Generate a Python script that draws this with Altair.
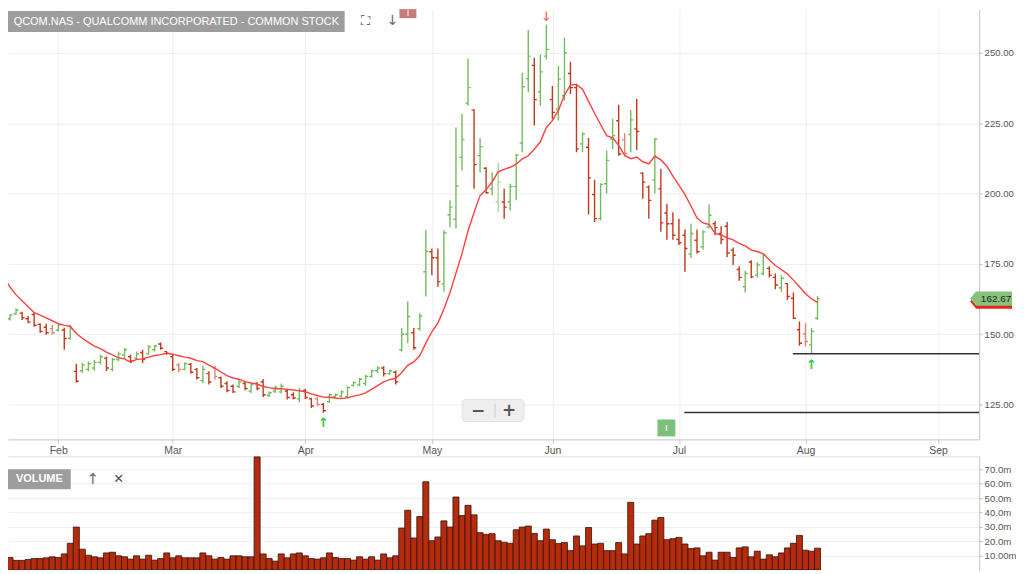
import altair as alt
import pandas as pd

TITLE = "QCOM.NAS - QUALCOMM INCORPORATED - COMMON STOCK"
months = ["Feb", "Mar", "Apr", "May", "Jun", "Jul", "Aug", "Sep"]
month_idx = [9, 28, 50, 71, 91, 112, 133, 155]
price_ticks = [125, 150, 175, 200, 225, 250]
price_labels = ["125.00", "150.00", "175.00", "200.00", "225.00", "250.00"]
vol_ticks = [10, 20, 30, 40, 50, 60, 70]
vol_labels = ["10.00m", "20.0m", "30.0m", "40.0m", "50.0m", "60.0m", "70.0m"]

opens = [157.6, 155.5, 157.3, 157.5, 155.5, 157.0, 153.5, 152.5, 152.0, 151.5,
         151.5, 148.5, 136.8, 137.0, 137.5, 138.0, 140.0, 141.5, 137.5, 141.0,
         142.5, 142.0, 141.5, 143.5, 143.0, 144.5, 146.5, 143.8, 142.0, 139.0,
         137.5, 139.3, 137.5, 133.5, 136.0, 138.0, 134.5, 132.5, 131.5, 131.5,
         132.5, 129.8, 132.5, 133.0, 128.3, 129.8, 129.5, 129.8, 128.5, 127.0,
         130.0, 127.0, 127.0, 125.0, 126.0, 127.8, 128.0, 127.8, 131.8, 132.0,
         132.5, 135.0, 137.0, 138.0, 136.0, 136.5, 144.5, 150.0, 150.5, 152.0,
         172.2, 179.3, 177.2, 167.9, 192.5, 190.9, 212.9, 232.2, 229.7, 213.5,
         209.0, 201.7, 197.0, 197.0, 197.0, 202.5, 218.0, 240.9, 245.6, 236.2,
         248.9, 233.4, 230.0, 234.8, 242.7, 237.7, 217.7, 216.5, 199.7, 191.1,
         203.5, 219.4, 225.9, 219.1, 221.0, 223.0, 207.3, 202.3, 204.9, 201.7,
         193.1, 189.3, 183.7, 185.2, 178.5, 183.4, 181.1, 188.1, 189.3, 185.8,
         188.4, 179.9, 173.0, 166.9, 175.7, 171.0, 171.6, 173.4, 170.2, 166.5,
         168.0, 162.8, 151.6, 150.1, 146.2, 155.7]
highs = [158.0, 157.2, 159.2, 158.0, 156.5, 157.5, 153.9, 153.7, 153.3, 153.9,
         152.3, 153.3, 139.5, 139.8, 140.3, 140.9, 142.7, 142.1, 141.6, 143.9,
         145.1, 142.7, 143.9, 144.5, 146.2, 146.2, 147.1, 143.9, 142.7, 139.8,
         140.0, 139.8, 138.0, 138.8, 136.8, 138.8, 135.0, 133.3, 132.1, 133.9,
         133.3, 132.7, 132.9, 134.1, 129.7, 131.8, 132.4, 130.3, 129.4, 130.9,
         130.6, 127.4, 127.7, 125.6, 128.9, 128.9, 130.1, 131.7, 133.3, 134.5,
         135.6, 137.4, 138.6, 138.6, 137.4, 137.1, 152.2, 161.6, 152.2, 157.5,
         187.0, 180.5, 180.5, 187.0, 197.6, 223.5, 228.3, 248.0, 230.0, 219.8,
         209.4, 207.6, 210.9, 201.7, 203.5, 214.1, 243.0, 258.2, 248.3, 249.5,
         260.1, 238.3, 245.4, 255.4, 246.9, 238.9, 221.8, 219.8, 204.9, 203.7,
         215.3, 226.5, 231.6, 221.5, 229.7, 233.6, 207.6, 202.9, 219.8, 208.8,
         196.4, 193.4, 191.1, 187.2, 189.3, 187.2, 187.0, 196.2, 190.3, 188.4,
         189.9, 180.8, 174.2, 172.6, 176.3, 175.7, 178.9, 174.2, 171.6, 171.0,
         168.1, 164.8, 154.5, 153.9, 152.2, 163.6]
lows = [153.3, 154.9, 156.9, 155.1, 153.9, 152.7, 150.4, 149.8, 149.8, 151.0,
        144.5, 148.0, 132.8, 136.2, 136.8, 137.0, 139.2, 136.8, 136.8, 140.3,
        141.5, 139.8, 140.9, 139.8, 142.7, 143.9, 144.5, 142.7, 136.8, 136.4,
        137.2, 136.0, 133.9, 132.7, 132.1, 133.9, 130.9, 129.4, 129.1, 130.9,
        130.1, 129.1, 130.1, 127.7, 127.7, 129.1, 128.9, 126.8, 126.8, 125.8,
        127.0, 123.8, 124.4, 122.1, 125.6, 127.4, 127.4, 127.0, 131.3, 131.5,
        131.7, 134.5, 136.2, 135.0, 135.6, 132.1, 143.9, 146.8, 144.5, 151.2,
        163.4, 171.0, 166.9, 165.1, 188.1, 187.6, 208.2, 231.2, 201.7, 207.5,
        200.0, 199.4, 193.4, 191.1, 194.0, 197.6, 214.7, 236.0, 224.2, 231.2,
        247.7, 226.5, 226.0, 233.0, 235.4, 214.7, 214.7, 192.6, 189.9, 190.5,
        200.0, 215.9, 213.5, 213.2, 214.7, 215.5, 198.2, 191.1, 200.0, 186.4,
        183.6, 183.6, 181.7, 172.2, 177.0, 178.7, 180.1, 187.6, 185.2, 182.0,
        177.5, 174.6, 169.0, 164.8, 169.9, 170.2, 171.0, 170.2, 166.0, 165.1,
        162.2, 155.4, 145.9, 145.6, 143.0, 155.1]
closes = [154.0, 156.8, 158.5, 155.8, 154.3, 153.2, 151.0, 150.5, 150.5, 153.3,
          148.5, 152.0, 133.3, 139.0, 139.5, 140.0, 142.0, 138.0, 141.0, 143.0,
          144.5, 140.5, 143.0, 141.0, 145.5, 145.8, 145.0, 143.2, 137.5, 137.5,
          139.5, 136.5, 134.5, 137.5, 133.0, 135.0, 131.5, 130.0, 129.5, 133.0,
          130.7, 132.0, 130.7, 128.5, 129.2, 131.2, 131.5, 127.5, 127.3, 130.0,
          127.5, 124.5, 125.0, 122.8, 128.5, 128.5, 129.5, 131.0, 132.8, 134.0,
          135.0, 137.0, 138.0, 136.0, 137.0, 133.0, 150.0, 156.3, 145.2, 156.5,
          179.5, 177.2, 168.7, 186.0, 195.2, 202.7, 219.2, 237.7, 210.3, 216.7,
          200.3, 205.0, 204.0, 195.2, 202.5, 213.7, 238.0, 248.9, 233.4, 243.3,
          251.3, 228.9, 240.7, 250.1, 237.7, 215.9, 221.2, 205.6, 191.1, 203.3,
          211.8, 220.6, 214.1, 214.3, 226.2, 222.1, 204.1, 197.6, 219.4, 189.6,
          189.3, 185.2, 182.5, 180.5, 185.8, 179.3, 186.4, 192.3, 187.9, 183.7,
          178.9, 178.1, 170.2, 171.6, 170.4, 174.6, 178.1, 171.0, 167.5, 169.9,
          163.4, 155.7, 146.8, 147.4, 151.0, 162.67]
volumes = [11.8, 8.6, 6.6, 6.6, 7.2, 7.9, 7.9, 8.4, 9.1, 8.6,
           11.1, 18.5, 29.8, 14.4, 10.2, 9.1, 8.4, 11.8, 12.3, 9.8,
           9.1, 7.5, 9.8, 7.5, 10.2, 6.8, 7.9, 11.8, 8.4, 9.8,
           8.4, 8.4, 8.4, 11.8, 9.8, 7.5, 8.6, 7.5, 9.8, 9.8,
           9.1, 9.1, 78.7, 11.1, 7.9, 6.1, 11.1, 8.4, 11.1, 11.8,
           9.8, 7.9, 7.5, 8.4, 11.8, 8.6, 7.9, 7.9, 6.8, 9.1,
           7.5, 9.1, 6.8, 11.1, 8.4, 9.8, 29.1, 41.5, 22.2, 37.1,
           61.3, 20.3, 22.9, 34.1, 29.8, 50.7, 37.8, 44.9, 38.3, 25.9,
           24.7, 25.2, 20.3, 19.2, 18.5, 27.9, 29.8, 30.5, 25.4, 20.3,
           28.4, 21.0, 18.3, 19.0, 13.4, 23.6, 16.7, 29.5, 18.0, 18.5,
           13.4, 13.4, 19.0, 11.1, 47.0, 18.0, 23.6, 25.2, 34.6, 36.4,
           21.0, 21.7, 22.6, 18.0, 14.8, 15.3, 9.8, 12.3, 6.8, 12.3,
           12.3, 8.6, 15.3, 16.0, 9.1, 13.0, 7.5, 10.5, 9.1, 11.8,
           15.3, 18.5, 24.0, 13.7, 13.0, 15.1]
# closes before the first visible bar (feed the 10-day moving average)
prior_closes = [188.8, 186.5, 176.8, 175.3, 174.2, 160.0, 160.5, 160.5, 163.3]

support_start = [130.9, 112.9]
support_level = [143.06, 122.2]
arrow_k = [90, 53, 134]
arrow_y = [262.8, 118.3, 139.2]
arrow_glyph = ["\u2193", "\u2191", "\u2191"]
arrow_color = ["#ef7b73", "#2ecc40", "#2ecc40"]

N = len(closes)
assert len(opens) == N and len(highs) == N and len(lows) == N and len(volumes) == N

X_DOM = [0.661, 161.82]
Y_DOM = [112.6, 265.6]
V_DOM = [0, 79.0]

# ---------- data ----------
ma = pd.Series(prior_closes + closes).rolling(10).mean().tolist()[len(prior_closes):]
prev = [prior_closes[-1]] + closes[:-1]
cols = []
for o, c, p in zip(opens, closes, prev):
    up = c >= o
    agree = (c >= p) == up
    if up:
        cols.append("#74bb60" if agree else "#a9d598")
    else:
        cols.append("#c0381c" if agree else "#dd8673")

df = pd.DataFrame({
    "k": list(range(N)), "open": opens, "high": highs, "low": lows,
    "close": closes, "vol": volumes, "ma": ma, "col": cols,
})
sup = pd.DataFrame({"start": support_start, "level": support_level,
                    "end": [X_DOM[1]] * len(support_level)})
arr = pd.DataFrame({"k": arrow_k, "y": arrow_y, "g": arrow_glyph, "c": arrow_color})
last = pd.DataFrame({"close": [closes[-1]], "t": [f"{closes[-1]:.2f}"]})

FONT = "Liberation Sans"
xscale = alt.Scale(domain=X_DOM, nice=False, zero=False)
yscale = alt.Scale(domain=Y_DOM, nice=False, zero=False)
vscale = alt.Scale(domain=V_DOM, nice=False, zero=False)

xaxis = alt.Axis(values=month_idx, title=None, grid=True, gridColor="#efefef",
                 domainColor="#c4c4c4", tickColor="#c4c4c4", tickSize=4,
                 labelColor="#555555", labelFontSize=10.5, labelFont=FONT, labelPadding=2,
                 labelExpr=f"{months}[indexof({month_idx}, datum.value)]")
yaxis = alt.Axis(orient="right", values=price_ticks, title=None, grid=True,
                 gridColor="#efefef", domainColor="#c4c4c4", tickColor="#c4c4c4",
                 tickSize=3, labelColor="#555555", labelFontSize=9.6, labelFont=FONT,
                 labelPadding=2,
                 labelExpr=f"{price_labels}[indexof({price_ticks}, datum.value)]")


def Xk(f):
    return alt.X(f, type="quantitative", scale=xscale, axis=xaxis)


def Yp(f):
    return alt.Y(f, type="quantitative", scale=yscale, axis=yaxis)


base = alt.Chart(df)
colr = alt.Color("col:N", scale=None)

hl = base.mark_rule(strokeWidth=1.4, clip=True).encode(
    x=Xk("k"), y=Yp("low"), y2="high:Q", color=colr)
op = base.transform_calculate(kl="datum.k - 0.42").mark_rule(
    strokeWidth=1.4, clip=True).encode(x=Xk("kl"), x2="k:Q", y=Yp("open"), color=colr)
cl = base.transform_calculate(kr="datum.k + 0.42").mark_rule(
    strokeWidth=1.4, clip=True).encode(x=Xk("k"), x2="kr:Q", y=Yp("close"), color=colr)
ma_line = base.mark_line(color="#ff4040", strokeWidth=1.4, clip=True).encode(
    x=Xk("k"), y=Yp("ma"))
sup_lines = alt.Chart(sup).mark_rule(color="#333333", strokeWidth=1.5, clip=True).encode(
    x=Xk("start"), x2="end:Q", y=Yp("level"))
arrows = alt.Chart(arr).mark_text(fontSize=13, fontWeight="bold", font="DejaVu Sans",
                                  baseline="middle").encode(
    x=Xk("k"), y=Yp("y"), text="g:N", color=alt.Color("c:N", scale=None))

TAG = "M -1 0 L -0.72 -0.34 L 1 -0.34 L 1 0.34 L -0.72 0.34 Z"
tag_shadow = alt.Chart(last).mark_point(shape=TAG, filled=True, size=1764, color="#e5261c",
                                        opacity=1, yOffset=3).encode(
    x=alt.value(987), y=Yp("close"))
tag = alt.Chart(last).mark_point(shape=TAG, filled=True, size=1764, color="#88c27a",
                                 opacity=1).encode(x=alt.value(987), y=Yp("close"))
tag_text = alt.Chart(last).mark_text(fontSize=10, font=FONT, color="#222222",
                                     align="center", baseline="middle").encode(
    x=alt.value(992), y=Yp("close"), text="t:N")

chrome_df = pd.DataFrame({"t": [TITLE]})
ch = alt.Chart(chrome_df)
title_box = ch.mark_rect(color="#9d9d9d").encode(
    x=alt.value(0), x2=alt.value(338), y=alt.value(2), y2=alt.value(23))
title_txt = ch.mark_text(color="white", fontSize=11, font=FONT, align="center",
                         baseline="middle").encode(x=alt.value(169), y=alt.value(13), text="t:N")
icon_full = ch.mark_text(text="\u26f6", fontSize=13, color="#444444", font="DejaVu Sans",
                         baseline="middle").encode(x=alt.value(359), y=alt.value(12))
icon_down = ch.mark_text(text="\u2193", fontSize=14, color="#666666", font="DejaVu Sans",
                         baseline="middle").encode(x=alt.value(386), y=alt.value(12))
red_sq = ch.mark_rect(color="#c47b79").encode(
    x=alt.value(393), x2=alt.value(410), y=alt.value(0), y2=alt.value(9))
red_i = ch.mark_text(text="I", color="white", fontSize=9, font=FONT, baseline="top").encode(
    x=alt.value(401.5), y=alt.value(0))
zoom_box = ch.mark_rect(color="#eeeeee", stroke="#e2e2e2", cornerRadius=3).encode(
    x=alt.value(456), x2=alt.value(518), y=alt.value(392), y2=alt.value(414))
zoom_minus = ch.mark_text(text="\u2212", fontSize=17, fontWeight="bold", color="#555555",
                          font="DejaVu Sans", baseline="middle").encode(
    x=alt.value(472), y=alt.value(403))
zoom_plus = ch.mark_text(text="+", fontSize=17, fontWeight="bold", color="#555555",
                         font="DejaVu Sans", baseline="middle").encode(
    x=alt.value(503), y=alt.value(403))
zoom_div = ch.mark_rule(color="#cccccc").encode(
    x=alt.value(489), y=alt.value(396), y2=alt.value(410))
green_sq = ch.mark_rect(color="#7dbf7d").encode(
    x=alt.value(652), x2=alt.value(670), y=alt.value(412), y2=alt.value(429))
green_i = ch.mark_text(text="I", color="white", fontSize=10, font=FONT,
                       baseline="middle").encode(x=alt.value(661), y=alt.value(420.5))

price = alt.layer(
    hl, op, cl, ma_line, sup_lines, arrows, tag_shadow, tag, tag_text,
    title_box, title_txt, icon_full, icon_down, red_sq, red_i,
    zoom_box, zoom_div, zoom_minus, zoom_plus, green_sq, green_i,
).properties(width=975, height=432)

# ---------- volume ----------
vxaxis = alt.Axis(orient="top", values=month_idx, title=None, labels=False, ticks=False,
                  grid=False, domainColor="#dddddd")
vyaxis = alt.Axis(orient="right", values=vol_ticks, title=None, grid=True,
                  gridColor="#efefef", domainColor="#c4c4c4", tickColor="#c4c4c4",
                  tickSize=3, labelColor="#555555", labelFontSize=9.6, labelFont=FONT,
                  labelPadding=2,
                  labelExpr=f"{vol_labels}[indexof({vol_ticks}, datum.value)]")
vbars = base.transform_calculate(kl="datum.k - 0.5", kr="datum.k + 0.5").mark_bar(
    fill="#b72b0d", stroke="#2e140c", strokeWidth=0.8, clip=True).encode(
    x=alt.X("kl:Q", scale=xscale, axis=vxaxis), x2="kr:Q",
    y=alt.Y("vol:Q", scale=vscale, axis=vyaxis), y2=alt.datum(0))
vch = alt.Chart(pd.DataFrame({"t": ["VOLUME"]}))
vol_box = vch.mark_rect(color="#9d9d9d").encode(
    x=alt.value(0), x2=alt.value(63), y=alt.value(13), y2=alt.value(33))
vol_txt = vch.mark_text(color="white", fontSize=11, fontWeight="bold", font=FONT,
                        align="center", baseline="middle").encode(
    x=alt.value(31.5), y=alt.value(23), text="t:N")
vol_up = vch.mark_text(text="\u2191", fontSize=15, color="#666666", font="DejaVu Sans",
                       baseline="middle").encode(x=alt.value(85), y=alt.value(23))
vol_x = vch.mark_text(text="\u2715", fontSize=13, color="#555555", font="DejaVu Sans",
                      baseline="middle").encode(x=alt.value(111), y=alt.value(23))

volume = alt.layer(vbars, vol_box, vol_txt, vol_up, vol_x).properties(width=975, height=114)

chart = alt.vconcat(price, volume, spacing=17, bounds="flush").properties(
    padding={"left": 0, "top": 0, "right": 0, "bottom": 0}
).configure(background="white").configure_view(stroke=None)

chart.save("out.html", embed_options={"renderer": "svg", "actions": False})
